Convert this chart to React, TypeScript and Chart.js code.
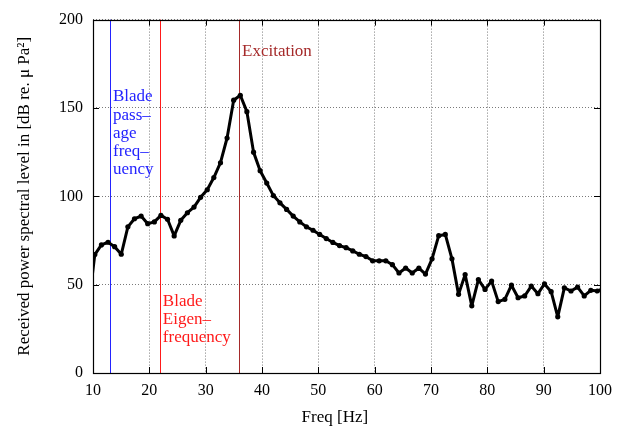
import React, { useEffect, useRef } from 'react';
import { Chart, registerables } from 'chart.js';

Chart.register(...registerables);

// ---- data ----
const freqHz = [9.15, 10.32, 11.49, 12.67, 13.84, 15.02, 16.19, 17.36, 18.54, 19.71, 20.89, 22.06, 23.23, 24.41, 25.58, 26.76, 27.93, 29.10, 30.28, 31.45, 32.63, 33.80, 34.97, 36.15, 37.32, 38.50, 39.67, 40.84, 42.02, 43.19, 44.37, 45.54, 46.71, 47.89, 49.06, 50.24, 51.41, 52.58, 53.76, 54.93, 56.11, 57.28, 58.45, 59.63, 60.80, 61.98, 63.15, 64.32, 65.50, 66.67, 67.85, 69.02, 70.19, 71.37, 72.54, 73.72, 74.89, 76.06, 77.24, 78.41, 79.59, 80.76, 81.93, 83.11, 84.28, 85.46, 86.63, 87.80, 88.98, 90.15, 91.33, 92.50, 93.67, 94.85, 96.02, 97.20, 98.37, 99.54, 100.72];
const levelDb = [36, 67, 72.5, 74, 71.5, 67.2, 82.7, 87.3, 88.8, 84.5, 85.5, 89.2, 87, 77.6, 86.4, 90.7, 93.9, 99.4, 103.7, 110.6, 119, 133, 154.4, 157.2, 147.9, 125, 114.5, 107.5, 100.4, 96.3, 92.6, 88.8, 85.5, 82.7, 80.8, 78.4, 76.1, 73.9, 72.1, 70.9, 69.1, 67.2, 65.9, 63.5, 63.5, 63.5, 61.3, 56.6, 59.4, 56.6, 59.4, 56.0, 64.6, 77.7, 78.4, 64.6, 44.5, 55.7, 38.0, 52.9, 47.3, 52.0, 40.4, 41.7, 49.7, 42.6, 43.6, 49.2, 44.9, 50.4, 46.0, 31.8, 48.2, 46.4, 48.6, 43.6, 46.8, 46.4, 48];

const xTickValues = [10, 20, 30, 40, 50, 60, 70, 80, 90, 100];
const yTickValues = [0, 50, 100, 150, 200];

const xAxisTitle = 'Freq [Hz]';
const yAxisTitle = 'Received power spectral level in [dB re. \u03BC Pa\u00B2]';

// vertical marker frequencies
const bladePassageFreq = 12.95;
const bladeEigenFreq = 21.95;
const excitationFreq = 36.0;

// marker labels (lines) and their anchor in data units
const bladePassageLabel = ['Blade', 'pass\u2013', 'age', 'freq\u2013', 'uency'];
const bladePassageAnchor = [13.55, 156.3];
const bladeEigenLabel = ['Blade', 'Eigen\u2013', 'frequency'];
const bladeEigenAnchor = [22.4, 40.6];
const excitationLabel = ['Excitation'];
const excitationAnchor = [36.45, 181.8];

const FONT = '"Liberation Serif", "DejaVu Serif", "Times New Roman", serif';

const markers = [
  { f: bladePassageFreq, color: '#2323ff', lines: bladePassageLabel, anchor: bladePassageAnchor },
  { f: bladeEigenFreq, color: '#ff1a1a', lines: bladeEigenLabel, anchor: bladeEigenAnchor },
  { f: excitationFreq, color: '#a52a2a', lines: excitationLabel, anchor: excitationAnchor },
];

const overlayPlugin = {
  id: 'overlay',
  beforeDatasetsDraw(chart: any) {
    const { ctx, chartArea: a, scales } = chart;
    const x = scales.x;
    ctx.save();
    ctx.lineWidth = 1;
    markers.forEach((m) => {
      const px = Math.round(x.getPixelForValue(m.f)) + 0.5;
      ctx.strokeStyle = m.color;
      ctx.beginPath();
      ctx.moveTo(px, a.top);
      ctx.lineTo(px, a.bottom);
      ctx.stroke();
    });
    ctx.restore();
  },
  afterDatasetsDraw(chart: any) {
    const { ctx, chartArea: a, scales } = chart;
    const x = scales.x;
    const y = scales.y;
    ctx.save();
    // labels
    ctx.font = '17px ' + FONT;
    ctx.textAlign = 'left';
    ctx.textBaseline = 'middle';
    markers.forEach((m) => {
      ctx.fillStyle = m.color;
      const px = x.getPixelForValue(m.anchor[0]);
      const py = y.getPixelForValue(m.anchor[1]);
      m.lines.forEach((t, i) => ctx.fillText(t, px, py + i * 18.3));
    });
    // inward ticks
    ctx.strokeStyle = '#000';
    ctx.lineWidth = 1;
    ctx.beginPath();
    xTickValues.forEach((v) => {
      const px = Math.round(x.getPixelForValue(v)) + 0.5;
      ctx.moveTo(px, a.bottom);
      ctx.lineTo(px, a.bottom - 6);
      ctx.moveTo(px, a.top);
      ctx.lineTo(px, a.top + 6);
    });
    yTickValues.forEach((v) => {
      const py = Math.round(y.getPixelForValue(v)) + 0.5;
      ctx.moveTo(a.left, py);
      ctx.lineTo(a.left + 6, py);
      ctx.moveTo(a.right, py);
      ctx.lineTo(a.right - 6, py);
    });
    ctx.stroke();
    // frame
    ctx.lineWidth = 1.2;
    ctx.strokeRect(Math.round(a.left) + 0.5, Math.round(a.top) + 0.5, Math.round(a.right - a.left), Math.round(a.bottom - a.top));
    // x title
    ctx.fillStyle = '#000';
    ctx.font = '17px ' + FONT;
    ctx.textAlign = 'center';
    ctx.textBaseline = 'middle';
    ctx.fillText(xAxisTitle, a.left + (a.right - a.left) * 0.477, a.bottom + 45);
    ctx.restore();
  },
};

export default function App() {
  const ref = useRef<HTMLCanvasElement | null>(null);
  useEffect(() => {
    if (!ref.current) return;
    const points = freqHz.map((f, i) => ({ x: f, y: levelDb[i] }));
    const chart = new Chart(ref.current, {
      type: 'line',
      data: {
        datasets: [
          {
            data: points,
            borderColor: '#000',
            backgroundColor: '#000',
            borderWidth: 3,
            pointRadius: 2.6,
            pointBorderWidth: 0,
            pointBackgroundColor: '#000',
            tension: 0,
            borderJoinStyle: 'round',
          } as any,
        ],
      },
      options: {
        animation: false,
        responsive: false,
        devicePixelRatio: 1,
        layout: { padding: { left: 0, right: 27, top: 14, bottom: 0 } },
        plugins: { legend: { display: false }, tooltip: { enabled: false } },
        scales: {
          x: {
            type: 'linear',
            min: 10,
            max: 100,
            afterFit: (s: any) => { s.height = 59; },
            afterBuildTicks: (s: any) => { s.ticks = xTickValues.map((v) => ({ value: v })); },
            ticks: { color: '#000', font: { family: FONT, size: 16 }, padding: 8, maxRotation: 0 },
            grid: { color: '#7a7a7a', drawTicks: false, lineWidth: 1 },
            border: { display: false, dash: [1, 2] },
          },
          y: {
            type: 'linear',
            min: 0,
            max: 200,
            afterFit: (s: any) => { s.width = 93; },
            afterBuildTicks: (s: any) => { s.ticks = yTickValues.map((v) => ({ value: v })); },
            ticks: { color: '#000', font: { family: FONT, size: 16 }, padding: 10 },
            grid: { color: '#7a7a7a', drawTicks: false, lineWidth: 1 },
            border: { display: false, dash: [1, 2] },
            title: {
              display: true,
              text: yAxisTitle,
              color: '#000',
              font: { family: FONT, size: 17 },
              padding: { top: 14, bottom: 0 },
            },
          },
        },
      },
      plugins: [overlayPlugin],
    });
    return () => chart.destroy();
  }, []);
  return (
    <div style={{ position: 'fixed', left: 0, top: 0, width: 627, height: 432, background: '#fff' }}>
      <canvas ref={ref} width={627} height={432} style={{ display: 'block' }} />
    </div>
  );
}
